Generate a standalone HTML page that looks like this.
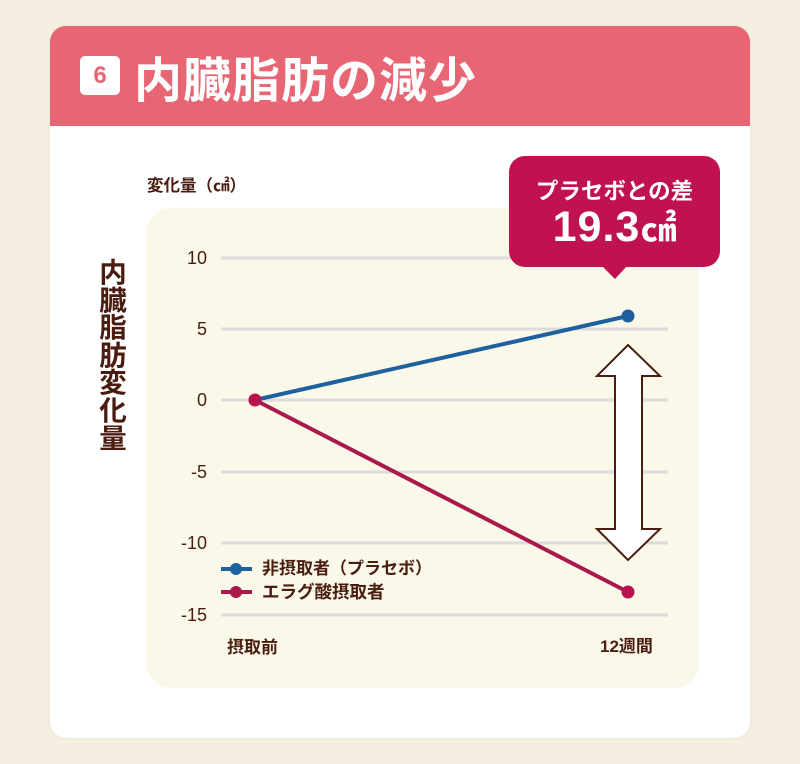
<!DOCTYPE html>
<html><head><meta charset="utf-8">
<style>
html,body{margin:0;padding:0;}
body{width:800px;height:764px;background:#f4efe1;position:relative;overflow:hidden;font-family:"Liberation Sans","Noto Sans CJK JP",sans-serif;}
.card{position:absolute;left:50px;top:26px;width:700px;height:712px;background:#fff;border-radius:16px;overflow:hidden;box-shadow:0 0 2px rgba(180,160,120,0.25);}
.head{position:absolute;left:0;top:0;width:700px;height:100px;background:#e86673;}
.badge{position:absolute;left:30px;top:30px;width:40px;height:39px;background:#fff;border-radius:5px;color:#e86673;font:bold 24px "Liberation Sans",sans-serif;text-align:center;line-height:39px;}
.title{position:absolute;left:84px;top:22px;color:#fff;font-family:"Noto Sans CJK JP",sans-serif;font-weight:bold;font-size:48px;line-height:56px;letter-spacing:1px;white-space:nowrap;}
.t{position:absolute;color:#4a1d10;font-family:"Liberation Sans","Noto Sans CJK JP",sans-serif;font-weight:bold;white-space:nowrap;}
</style></head><body>
<div class="card">
  <div class="head"></div>
  <div class="badge">6</div>
  <div class="title">内臓脂肪の減少</div>
</div>
<svg width="800" height="764" style="position:absolute;left:0;top:0" xmlns="http://www.w3.org/2000/svg">
  <rect x="146" y="208" width="553" height="480" rx="25" fill="#faf8e9"/>
  <g stroke="#dcdcdc" stroke-width="3">
    <line x1="221" y1="258" x2="668" y2="258"/>
    <line x1="221" y1="329" x2="668" y2="329"/>
    <line x1="221" y1="400" x2="668" y2="400"/>
    <line x1="221" y1="472" x2="668" y2="472"/>
    <line x1="221" y1="543" x2="668" y2="543"/>
    <line x1="221" y1="615" x2="668" y2="615"/>
  </g>
  <g fill="#4a1d10" font-family="Liberation Sans, sans-serif" font-size="18" text-anchor="end">
    <text x="207" y="264">10</text>
    <text x="207" y="335">5</text>
    <text x="207" y="406">0</text>
    <text x="207" y="478">-5</text>
    <text x="207" y="549">-10</text>
    <text x="207" y="621">-15</text>
  </g>
  <polygon points="628,345 660,376 642,376 642,529 660,529 628,560 597,529 615,529 615,376 597,376" fill="#fff" stroke="#4a1d10" stroke-width="2" stroke-linejoin="miter"/>
  <line x1="255" y1="400" x2="628" y2="316" stroke="#1f609f" stroke-width="4"/>
  <line x1="255" y1="400" x2="628" y2="592" stroke="#a9194c" stroke-width="4"/>
  <circle cx="628" cy="316" r="6.5" fill="#1f609f"/>
  <circle cx="628" cy="592" r="6.5" fill="#b8124f"/>
  <circle cx="255" cy="400" r="6.5" fill="#b8124f"/>
  <line x1="221" y1="569" x2="252" y2="569" stroke="#1f609f" stroke-width="4"/>
  <circle cx="236" cy="569" r="6" fill="#1f609f"/>
  <line x1="221" y1="592" x2="252" y2="592" stroke="#a9194c" stroke-width="4"/>
  <circle cx="236" cy="592" r="6" fill="#a9194c"/>
  <rect x="509" y="156" width="211" height="111" rx="16" fill="#c01250"/>
  <polygon points="602,266 627,266 615,279" fill="#c01250"/>
</svg>
<div class="t" style="left:147px;top:176px;font-size:16.5px;line-height:20px;">変化量（㎠）</div>
<div class="t" style="left:99px;top:259px;width:28px;font-size:27.5px;line-height:27.6px;text-align:center;white-space:normal;">内<br>臓<br>脂<br>肪<br>変<br>化<br>量</div>
<div class="t" style="left:262px;top:558px;font-size:17px;line-height:22px;">非摂取者（プラセボ）</div>
<div class="t" style="left:262px;top:581px;font-size:17.5px;line-height:22px;">エラグ酸摂取者</div>
<div class="t" style="left:227px;top:637px;font-size:17px;line-height:22px;">摂取前</div>
<div class="t" style="left:600px;top:636px;font-size:17px;line-height:22px;">12週間</div>
<div class="t" style="left:509px;top:178px;width:211px;text-align:center;color:#fff;font-size:22.5px;line-height:28px;">プラセボとの差</div>
<div class="t" style="left:509px;top:203px;width:211px;text-align:center;color:#fff;font-size:43px;line-height:48px;letter-spacing:1px;">19.3<span style="font-size:36px;letter-spacing:0">㎠</span></div>
</body></html>
